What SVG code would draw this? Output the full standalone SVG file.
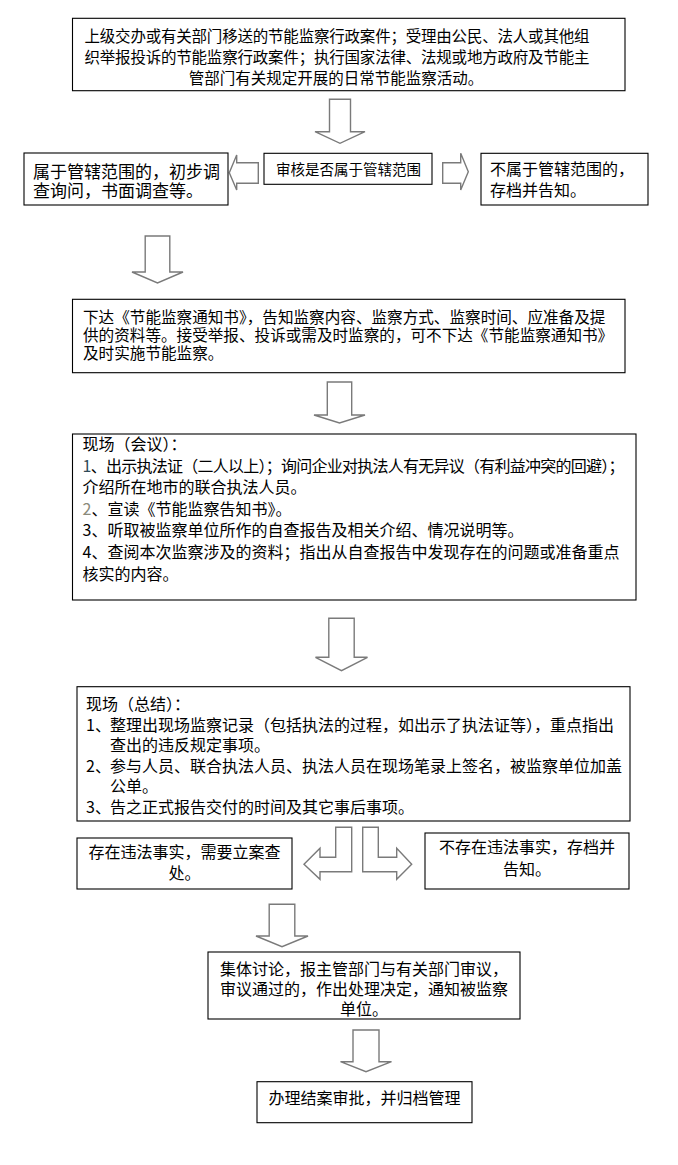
<svg xmlns="http://www.w3.org/2000/svg" width="678" height="1165" viewBox="0 0 678 1165">
<style>
.box{fill:#fff;stroke:#000;stroke-width:1.1}
.arr{fill:#fff;stroke:#7a7a7a;stroke-width:1.4;stroke-linejoin:miter}
text{font-family:"Noto Sans CJK SC","Noto Sans CJK JP",sans-serif;fill:#000}
.f16{font-size:16px}
.f155{font-size:15.5px}
.f156{font-size:15.6px}
.f17{font-size:17px}
.f145{font-size:14.5px}
.c{text-anchor:middle}
</style>
<rect width="678" height="1165" fill="#fff"/>
<g id="connectors">
<polygon class="arr" points="329.5,99.3 350.5,99.3 350.5,131.7 365,131.7 340,143.3 315,131.7 329.5,131.7"/>
<polygon class="arr" points="258.3,162.7 258.3,183.3 236.7,183.3 236.7,190 229.3,172.7 236.7,155 236.7,162.7"/>
<polygon class="arr" points="442.7,162.7 460.7,162.7 460.7,153.3 468.3,171.7 460.7,190 460.7,183.3 442.7,183.3"/>
<polygon class="arr" points="145.2,236 169.8,236 169.8,272 183,272 157.5,283 132,272 145.2,272"/>
<polygon class="arr" points="327.3,382 351.7,382 351.7,415 365,415 339.5,423 314,415 327.3,415"/>
<polygon class="arr" points="328.8,618.3 354.2,618.3 354.2,657.3 367.5,657.3 341.5,670.7 315.5,657.3 328.8,657.3"/>
<polygon class="arr" points="335.7,827.3 351.7,827.3 351.7,871.7 320,871.7 320,879.3 304,864.3 320,848.3 320,857.3 335.7,857.3"/>
<polygon class="arr" points="362.7,827.3 378.3,827.3 378.3,857.3 396.7,857.3 396.7,848.3 411.7,864.3 396.7,879.3 396.7,871.7 362.7,871.7"/>
<polygon class="arr" points="269.2,904.3 294.8,904.3 294.8,936 308,936 282,946.7 256,936 269.2,936"/>
<polygon class="arr" points="353,1030 379,1030 379,1061.7 391.5,1061.7 366,1071.7 340.5,1061.7 353,1061.7"/>
</g>
<g id="n1">
<rect class="box" x="72.5" y="18.3" width="552.5" height="72.4"/>
<text class="f155"><tspan x="84.5" y="42" textLength="505">上级交办或有关部门移送的节能监察行政案件；受理由公民、法人或其他组</tspan><tspan x="84.5" y="63" textLength="505">织举报投诉的节能监察行政案件；执行国家法律、法规或地方政府及节能主</tspan><tspan x="336" y="84" text-anchor="middle">管部门有关规定开展的日常节能监察活动。</tspan></text>
</g>
<g id="n2">
<rect class="box" x="24" y="153" width="204" height="52"/>
<text class="f17"><tspan x="33" y="177.5">属于管辖范围的，初步调</tspan><tspan x="33" y="196.5">查询问，书面调查等。</tspan></text>
</g>
<g id="n3">
<rect class="box" x="264" y="153.3" width="168" height="31"/>
<text class="f145" x="276" y="174.5">审核是否属于管辖范围</text>
</g>
<g id="n4">
<rect class="box" x="481" y="153.3" width="167" height="51.7"/>
<text class="f16"><tspan x="490" y="174.5">不属于管辖范围的，</tspan><tspan x="490" y="195.5">存档并告知。</tspan></text>
</g>
<g id="n5">
<rect class="box" x="72.5" y="299.3" width="552.5" height="73.4"/>
<text class="f156"><tspan x="83" y="323">下达《节能监察通知书》，告知监察内容、监察方式、监察时间、应准备及提</tspan><tspan x="83" y="341">供的资料等。接受举报、投诉或需及时监察的，可不下达《节能监察通知书》</tspan><tspan x="83" y="359">及时实施节能监察。</tspan></text>
</g>
<g id="n6">
<rect class="box" x="72.5" y="434" width="563.5" height="166"/>
<text class="f16"><tspan x="82.5" y="450">现场（会议）：</tspan><tspan x="82.5" y="472" textLength="542"><tspan fill="#2e4a58">1</tspan>、出示执法证（二人以上）；询问企业对执法人有无异议（有利益冲突的回避）；</tspan><tspan x="82.5" y="493">介绍所在地市的联合执法人员。</tspan><tspan x="82.5" y="514.5"><tspan fill="#8a8a7a">2</tspan>、宣读《节能监察告知书》。</tspan><tspan x="82.5" y="536">3、听取被监察单位所作的自查报告及相关介绍、情况说明等。</tspan><tspan x="82.5" y="558">4、查阅本次监察涉及的资料；指出从自查报告中发现存在的问题或准备重点</tspan><tspan x="82.5" y="580">核实的内容。</tspan></text>
</g>
<g id="n7">
<rect class="box" x="77" y="686.7" width="553" height="134.3"/>
<text class="f16"><tspan x="86" y="710">现场（总结）：</tspan><tspan x="86" y="731">1、</tspan><tspan x="110" y="731">整理出现场监察记录（包括执法的过程，如出示了执法证等），重点指出</tspan><tspan x="110" y="751">查出的违反规定事项。</tspan><tspan x="86" y="772">2、</tspan><tspan x="110" y="772">参与人员、联合执法人员、执法人员在现场笔录上签名，被监察单位加盖</tspan><tspan x="110" y="792">公单。</tspan><tspan x="86" y="813">3、</tspan><tspan x="110" y="813">告之正式报告交付的时间及其它事后事项。</tspan></text>
</g>
<g id="n8">
<rect class="box" x="77" y="838" width="215" height="51"/>
<text class="f16 c"><tspan x="184.5" y="858">存在违法事实，需要立案查</tspan><tspan x="184.5" y="879">处。</tspan></text>
</g>
<g id="n9">
<rect class="box" x="425" y="833" width="204" height="56"/>
<text class="f16 c"><tspan x="527" y="853">不存在违法事实，存档并</tspan><tspan x="527" y="875">告知。</tspan></text>
</g>
<g id="n10">
<rect class="box" x="208" y="952" width="312" height="67"/>
<text class="f16 c"><tspan x="364" y="975">集体讨论，报主管部门与有关部门审议，</tspan><tspan x="364" y="995">审议通过的，作出处理决定，通知被监察</tspan><tspan x="364" y="1015">单位。</tspan></text>
</g>
<g id="n11">
<rect class="box" x="257" y="1081.7" width="215" height="41"/>
<text class="f16 c" x="364.5" y="1104">办理结案审批，并归档管理</text>
</g>
</svg>
